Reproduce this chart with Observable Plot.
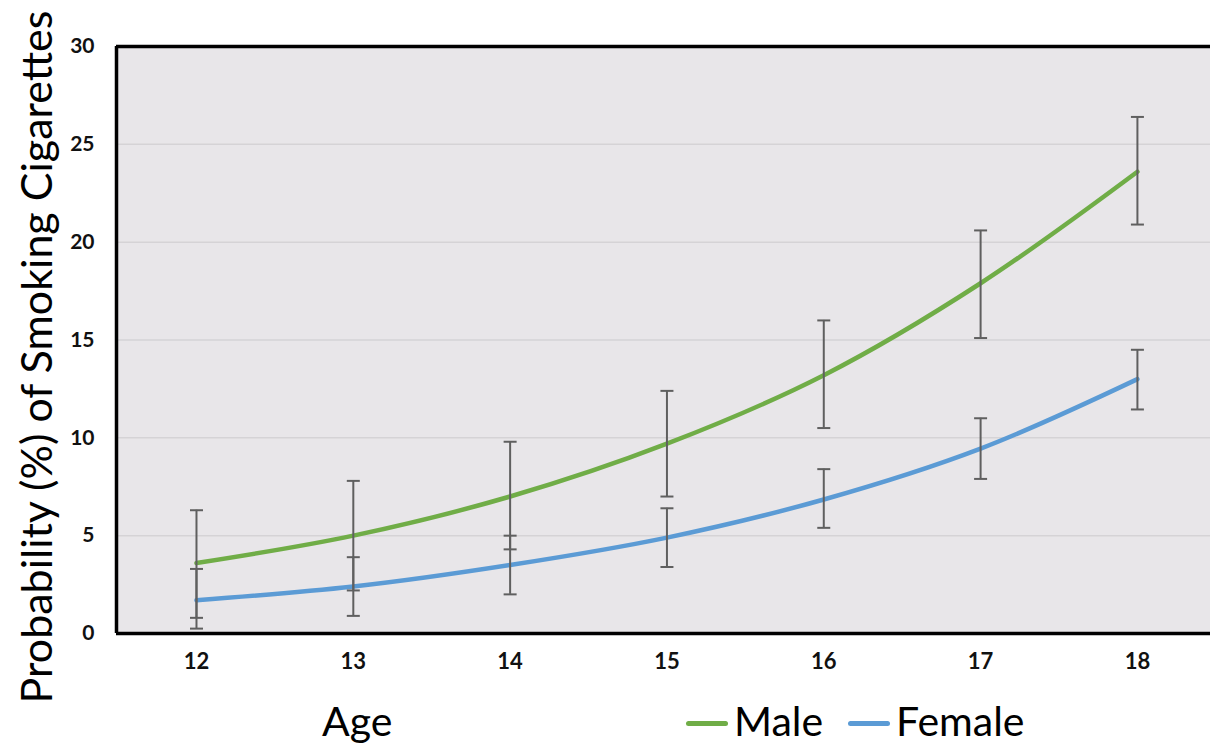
<!DOCTYPE html>
<html>
<head>
<meta charset="utf-8">
<script src="https://cdn.jsdelivr.net/npm/d3@7"></script>
<script src="https://cdn.jsdelivr.net/npm/@observablehq/plot@0.6"></script>
<style>
  body { margin: 0; background: #fff; font-family: Lato, sans-serif; }
  #wrap { width: 1210px; position: relative; }
  #bottom { position: relative; height: 52px; width: 1210px; font-size: 41px; color: #000; }
  #bottom span { position: absolute; top: 0; line-height: 52px; white-space: nowrap; }
  .sw { display: inline-block; width: 42px; height: 5px; border-radius: 3px; vertical-align: middle; margin-right: 6px; position: relative; top: -2px; }
</style>
</head>
<body>
<div id="wrap"></div>
<script>
const ages = [12, 13, 14, 15, 16, 17, 18];
const maleValues = [3.6, 5.0, 7.0, 9.7, 13.2, 17.9, 23.6];
const maleLow = [0.8, 2.2, 4.3, 7.0, 10.5, 15.1, 20.9];
const maleHigh = [6.3, 7.8, 9.8, 12.4, 16.0, 20.6, 26.4];
const femaleValues = [1.7, 2.4, 3.5, 4.9, 6.85, 9.45, 13.0];
const femaleLow = [0.25, 0.9, 2.0, 3.4, 5.4, 7.9, 11.45];
const femaleHigh = [3.3, 3.9, 5.0, 6.4, 8.4, 11.0, 14.5];
const yTicks = [0, 5, 10, 15, 20, 25, 30];
const gridTicks = [5, 10, 15, 20, 25];
const series = ["Male", "Female"];
const colors = ["#70ad47", "#5b9bd5"];
const yTitle = "Probability (%) of Smoking Cigarettes";
const xTitle = "Age";

const rows = [];
ages.forEach((a, i) => {
  rows.push({age: a, series: "Male", value: maleValues[i], low: maleLow[i], high: maleHigh[i]});
});
ages.forEach((a, i) => {
  rows.push({age: a, series: "Female", value: femaleValues[i], low: femaleLow[i], high: femaleHigh[i]});
});
const caps = rows.flatMap(d => [{age: d.age, v: d.low}, {age: d.age, v: d.high}]);

const capSymbol = {
  draw(context, size) {
    const w = 6.5;
    context.moveTo(-w, 0);
    context.lineTo(w, 0);
  }
};

const chart = Plot.plot({
  width: 1210,
  height: 695,
  marginLeft: 116,
  marginRight: 0,
  marginTop: 46,
  marginBottom: 62,
  style: {fontFamily: "Lato, sans-serif", background: "#fff", overflow: "visible"},
  x: {domain: [11.49, 18.466]},
  y: {domain: [0, 30]},
  color: {domain: series, range: colors},
  marks: [
    Plot.frame({fill: "#e8e6e9", stroke: null}),
    Plot.ruleY(gridTicks, {stroke: "#d5d3d6", strokeWidth: 1.5}),
    Plot.axisY({ticks: yTicks, tickFormat: d => String(d), tickSize: 0, tickPadding: 22, label: null, fontSize: 21, fontWeight: "bold", fill: "#111"}),
    Plot.axisX({ticks: ages, tickFormat: d => String(d), tickSize: 0, tickPadding: 20, label: null, fontSize: 22, fontWeight: "bold", fill: "#111"}),
    Plot.line(rows, {x: "age", y: "value", z: "series", stroke: "series", strokeWidth: 4.5, curve: "catmull-rom"}),
    Plot.ruleX(rows, {x: "age", y1: "low", y2: "high", stroke: "#5f5f5f", strokeWidth: 2}),
    Plot.dot(caps, {x: "age", y: "v", symbol: capSymbol, stroke: "#5f5f5f", strokeWidth: 2, r: 6, fill: "none"}),
    Plot.ruleY([0], {stroke: "#000", strokeWidth: 3.5}),
    Plot.ruleY([30], {stroke: "#000", strokeWidth: 3.5}),
    Plot.ruleX([11.49], {stroke: "#000", strokeWidth: 3.5}),
    Plot.text([yTitle], {frameAnchor: "left", rotate: -90, dx: -78, dy: 17, fontSize: 43, textAnchor: "middle", lineAnchor: "middle", fill: "#000"})
  ]
});
document.getElementById("wrap").appendChild(chart);

const bottom = document.createElement("div");
bottom.id = "bottom";
const t = document.createElement("span");
t.textContent = xTitle;
t.style.left = "322px";
bottom.appendChild(t);
const legendLeft = [686, 848];
series.forEach((s, i) => {
  const sp = document.createElement("span");
  sp.style.left = legendLeft[i] + "px";
  const sw = document.createElement("i");
  sw.className = "sw";
  sw.style.background = colors[i];
  sp.appendChild(sw);
  sp.appendChild(document.createTextNode(s));
  bottom.appendChild(sp);
});
document.getElementById("wrap").appendChild(bottom);
</script>
</body>
</html>
